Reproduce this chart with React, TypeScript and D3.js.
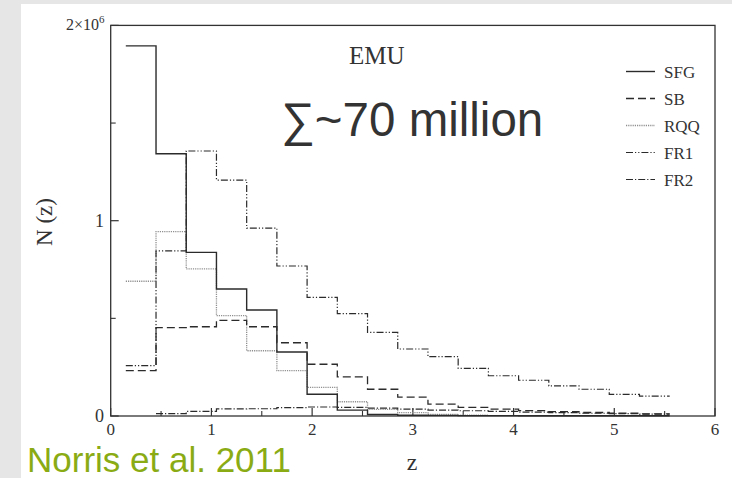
import React from "react";
import * as d3 from "d3";

// Redshift bin edges (z), 0.3 wide
const binEdges = [0.15, 0.45, 0.75, 1.05, 1.35, 1.65, 1.95, 2.25, 2.55, 2.85, 3.15, 3.45, 3.75, 4.05, 4.35, 4.65, 4.95, 5.25, 5.55];

// Source counts per bin, in millions
const sfg = [1.895, 1.343, 0.838, 0.65, 0.543, 0.328, 0.111, 0.03, 0.008, 0.004, 0.003, 0.002, 0.002, 0.001, 0.001, 0.001, 0.001, 0.001];
const sb = [0.232, 0.452, 0.457, 0.49, 0.457, 0.375, 0.265, 0.2, 0.137, 0.097, 0.061, 0.044, 0.035, 0.028, 0.022, 0.018, 0.014, 0.011];
const rqq = [0.69, 0.944, 0.753, 0.514, 0.334, 0.232, 0.147, 0.073, 0.034, 0.017, 0.008, 0.004, null, null, null, null, null, null];
const fr1 = [0.258, 0.845, 1.357, 1.208, 0.962, 0.768, 0.607, 0.524, 0.428, 0.343, 0.304, 0.244, 0.206, 0.183, 0.154, 0.137, 0.111, 0.102];
const fr2 = [null, 0.012, 0.024, 0.036, 0.037, 0.043, 0.046, 0.044, 0.04, 0.035, 0.03, 0.027, 0.024, 0.02, 0.017, 0.014, 0.012, 0.01];

const seriesNames = ["SFG", "SB", "RQQ", "FR1", "FR2"];
const xTicks = [0, 1, 2, 3, 4, 5, 6];
const xMinorTicks = [0.5, 1.5, 2.5, 3.5, 4.5, 5.5];
const yTicks = [0, 1e6, 2e6];
const yMinorTicks = [0.5e6, 1.5e6];

const styles: Record<string, { stroke: string; dash: string; width: number }> = {
  SFG: { stroke: "#2b2b2b", dash: "", width: 1.4 },
  SB: { stroke: "#2b2b2b", dash: "8,4", width: 1.3 },
  RQQ: { stroke: "#8f8f8f", dash: "1.2,1", width: 1.3 },
  FR1: { stroke: "#2b2b2b", dash: "7,2,1.2,2,1.2,2", width: 1.2 },
  FR2: { stroke: "#2b2b2b", dash: "7,2,1.2,2", width: 1.2 },
};

const serif = "'Liberation Serif', 'DejaVu Serif', serif";
const sans = "'Liberation Sans', Arial, sans-serif";

export default function App() {
  const W = 732;
  const H = 478;
  const x = d3.scaleLinear().domain([0, 6]).range([110.7, 715]);
  const y = d3.scaleLinear().domain([0, 2e6]).range([416, 25.4]);

  const data: Record<string, (number | null)[]> = { SFG: sfg, SB: sb, RQQ: rqq, FR1: fr1, FR2: fr2 };

  const stepPath = (vals: (number | null)[]) => {
    let lastIdx = -1;
    vals.forEach((v, i) => { if (v != null) lastIdx = i; });
    const pts: [number, number | null][] = [];
    vals.forEach((v, i) => {
      pts.push([binEdges[i], v]);
      // close the last bin at its right edge
      if (i === lastIdx) pts.push([binEdges[i + 1], v]);
    });
    const line = d3
      .line<[number, number | null]>()
      .defined((d) => d[1] != null)
      .x((d) => x(d[0]))
      .y((d) => y((d[1] as number) * 1e6))
      .curve(d3.curveStepAfter);
    return line(pts) || "";
  };

  const drawOrder = ["RQQ", "FR2", "SB", "FR1", "SFG"];
  const legendY = [71.5, 98.5, 125.5, 152.5, 179.5];

  return (
    <svg width={W} height={H} style={{ position: "absolute", left: 0, top: 0 }}>
      <rect x={0} y={0} width={W} height={H} fill="#e6e6e6" />
      <rect x={21} y={4} width={W - 21} height={H - 4} fill="#ffffff" />

      {/* frame */}
      <rect
        x={x(0)}
        y={y(2e6)}
        width={x(6) - x(0)}
        height={y(0) - y(2e6)}
        fill="none"
        stroke="#333"
        strokeWidth={1.3}
      />

      {/* x ticks */}
      {xTicks.map((t) => (
        <g key={"xt" + t}>
          <line x1={x(t)} x2={x(t)} y1={y(0)} y2={y(0) - 8} stroke="#333" strokeWidth={1.2} />
          <text x={x(t)} y={435} fontFamily={serif} fontSize={17} fill="#333" textAnchor="middle">
            {t}
          </text>
        </g>
      ))}
      {xMinorTicks.map((t) => (
        <line key={"xm" + t} x1={x(t)} x2={x(t)} y1={y(0)} y2={y(0) - 5} stroke="#333" strokeWidth={1.1} />
      ))}

      {/* y ticks */}
      {yTicks.map((t) => (
        <line key={"yt" + t} x1={x(0)} x2={x(0) + 8} y1={y(t)} y2={y(t)} stroke="#333" strokeWidth={1.2} />
      ))}
      {yMinorTicks.map((t) => (
        <line key={"ym" + t} x1={x(0)} x2={x(0) + 5} y1={y(t)} y2={y(t)} stroke="#333" strokeWidth={1.1} />
      ))}
      <text x={104} y={y(0) + 6} fontFamily={serif} fontSize={18} fill="#333" textAnchor="end">0</text>
      <text x={104} y={y(1e6) + 6} fontFamily={serif} fontSize={18} fill="#333" textAnchor="end">1</text>
      <text x={99} y={y(2e6) + 5} fontFamily={serif} fontSize={16} fill="#333" textAnchor="end">
        2×10
      </text>
      <text x={99} y={y(2e6) - 2} fontFamily={serif} fontSize={11} fill="#333">6</text>

      {/* axis titles */}
      <text
        transform={`translate(52, 222) rotate(-90)`}
        fontFamily={serif}
        fontSize={23}
        fill="#333"
        textAnchor="middle"
      >
        N (z)
      </text>
      <text x={412} y={470} fontFamily={serif} fontSize={24} fill="#333" textAnchor="middle">
        z
      </text>

      {/* histograms */}
      {drawOrder.map((name) => (
        <path
          key={name}
          d={stepPath(data[name])}
          fill="none"
          stroke={styles[name].stroke}
          strokeWidth={styles[name].width}
          strokeDasharray={styles[name].dash}
        />
      ))}

      {/* legend */}
      {seriesNames.map((name, i) => (
        <g key={"lg" + name}>
          <line
            x1={626}
            x2={655}
            y1={legendY[i]}
            y2={legendY[i]}
            stroke={styles[name].stroke}
            strokeWidth={styles[name].width}
            strokeDasharray={styles[name].dash}
          />
          <text x={664} y={legendY[i] + 6} fontFamily={serif} fontSize={17} fill="#333">
            {name}
          </text>
        </g>
      ))}

      {/* annotations */}
      <text x={349} y={64} fontFamily={serif} fontSize={25} fill="#333">EMU</text>
      <text x={281} y={136} fontFamily={sans} fontSize={47.5} fill="#333">∑~70 million</text>
      <text x={27} y={471.5} fontFamily={sans} fontSize={35} fill="#8aab14">Norris et al. 2011</text>
    </svg>
  );
}
